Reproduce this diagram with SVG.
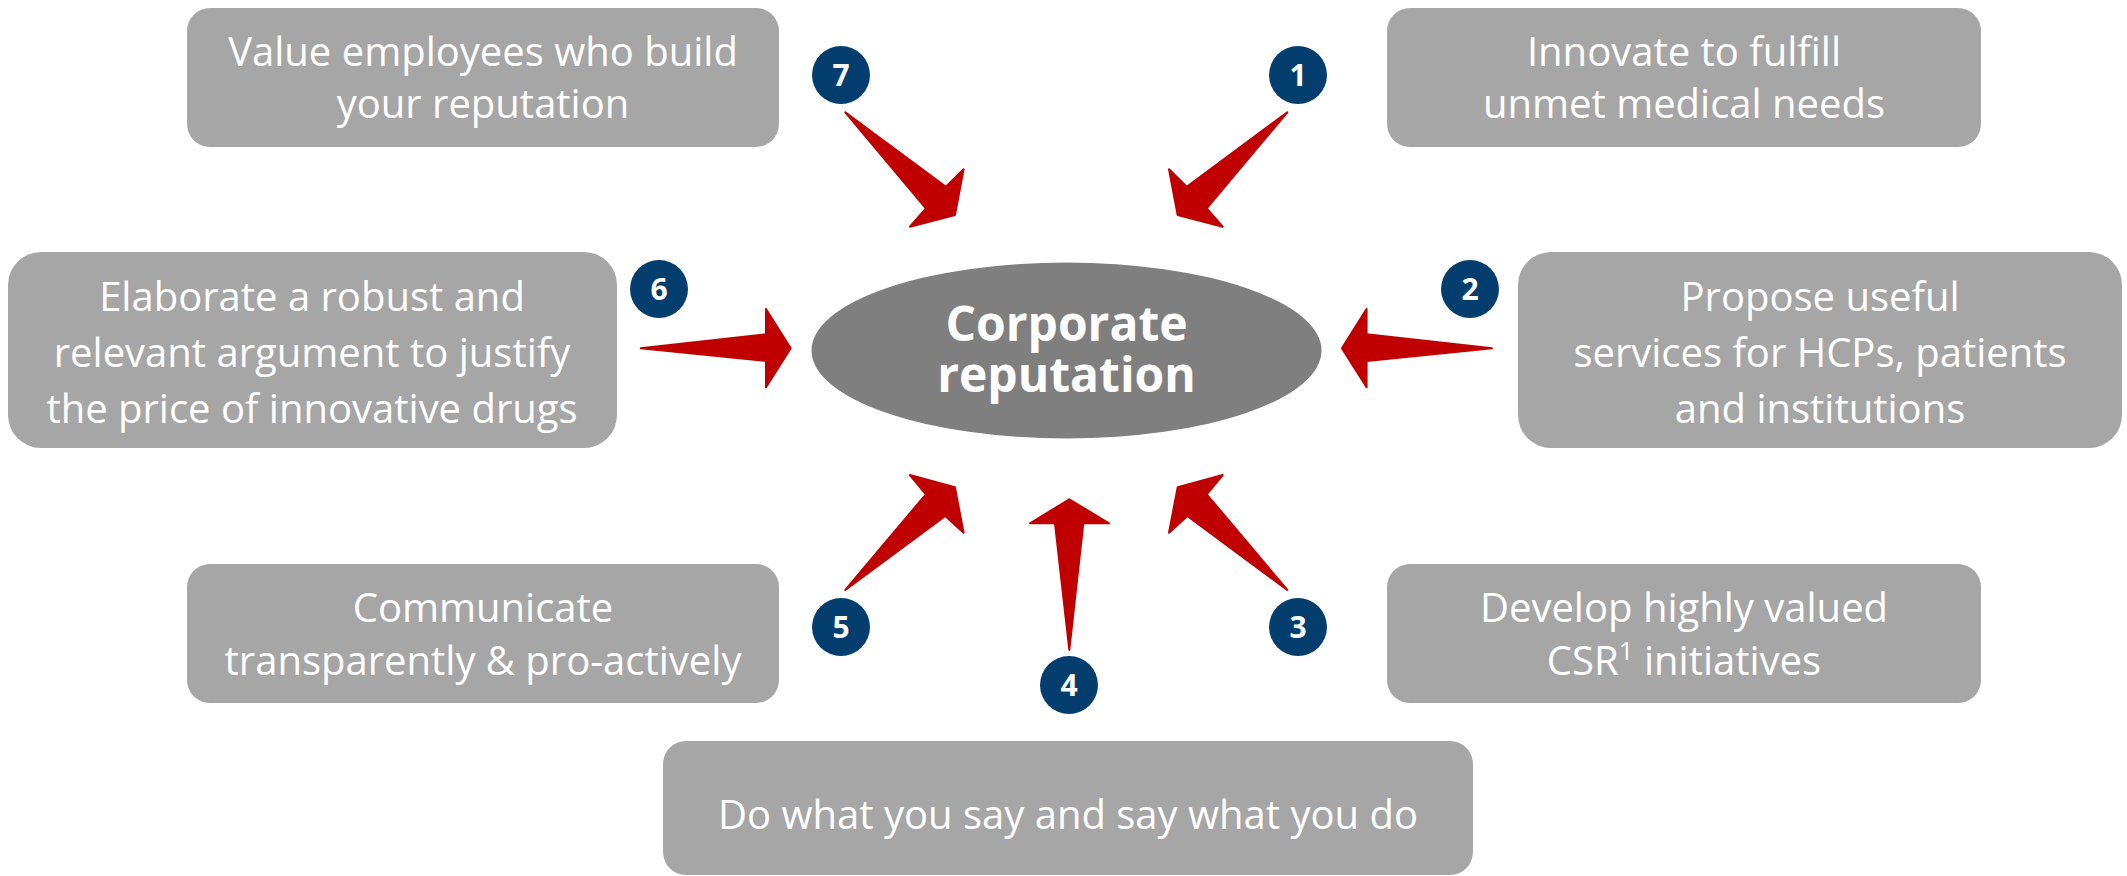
<svg xmlns="http://www.w3.org/2000/svg" width="2127" height="876" viewBox="0 0 2127 876">
  <style>
    .box { fill: #A6A6A6; }
    .txt { font-family: "Open Sans", "Noto Sans", "Liberation Sans", sans-serif; font-size: 40px; fill: #FFFFFF; text-anchor: middle; }
    .ctr { font-family: "Open Sans", "Noto Sans", "Liberation Sans", sans-serif; font-size: 48px; font-weight: bold; fill: #FFFFFF; text-anchor: middle; }
    .num { fill: #043E6E; }
    .numt { font-family: "Open Sans", "Noto Sans", "Liberation Sans", sans-serif; font-size: 30px; font-weight: bold; fill: #FFFFFF; text-anchor: middle; }
    .arrow { fill: #C00000; stroke: #C00000; stroke-width: 2; stroke-linejoin: round; }
  </style>
  <rect width="2127" height="876" fill="#FFFFFF"/>

  <g id="connectors">
    <polygon class="arrow" points="1287.3,112.3 1186.7,186.7 1169,169.3 1177.7,215 1222.7,226.7 1206.7,208.3"/>
    <polygon class="arrow" points="845.3,112.3 945.9,186.7 963.6,169.3 954.9,215 909.9,226.7 925.9,208.3"/>
    <polygon class="arrow" points="1287.3,590 1206.7,494.3 1222.7,475 1177.7,487.3 1169,532.7 1187.3,516"/>
    <polygon class="arrow" points="845.3,590 925.9,494.3 909.9,475 954.9,487.3 963.6,532.7 945.3,516"/>
    <polygon class="arrow" points="640.7,348.3 766,334.3 766,309 790.7,348.3 766,387.3 766,361"/>
    <polygon class="arrow" points="1491.9,348.3 1366.6,334.3 1366.6,309 1341.9,348.3 1366.6,387.3 1366.6,361"/>
    <polygon class="arrow" points="1069.3,650 1055,523.3 1030,523.3 1069.3,499.3 1109,523.3 1083.3,523.3"/>
  </g>

  <g id="center">
    <ellipse cx="1066.5" cy="350.5" rx="255" ry="88" fill="#7F7F7F"/>
    <text class="ctr" x="1066.5" y="341">Corporate<tspan x="1066.5" y="392">reputation</tspan></text>
  </g>

  <g id="node7">
    <rect class="box" x="187" y="8" width="592" height="139" rx="23"/>
    <text class="txt" x="483" y="66">Value employees who build<tspan x="483" y="118">your reputation</tspan></text>
  </g>
  <g id="node1">
    <rect class="box" x="1387" y="8" width="594" height="139" rx="23"/>
    <text class="txt" x="1684" y="66">Innovate to fulfill<tspan x="1684" y="118">unmet medical needs</tspan></text>
  </g>
  <g id="node6">
    <rect class="box" x="8" y="252" width="609" height="196" rx="33"/>
    <text class="txt" x="312" y="311">Elaborate a robust and<tspan x="312" y="367">relevant argument to justify</tspan><tspan x="312" y="423">the price of innovative drugs</tspan></text>
  </g>
  <g id="node2">
    <rect class="box" x="1518" y="252" width="604" height="196" rx="33"/>
    <text class="txt" x="1820" y="311">Propose useful<tspan x="1820" y="367">services for HCPs, patients</tspan><tspan x="1820" y="423">and institutions</tspan></text>
  </g>
  <g id="node5">
    <rect class="box" x="187" y="564" width="592" height="139" rx="23"/>
    <text class="txt" x="483" y="622">Communicate<tspan x="483" y="675">transparently &amp; pro-actively</tspan></text>
  </g>
  <g id="node3">
    <rect class="box" x="1387" y="564" width="594" height="139" rx="23"/>
    <text class="txt" x="1684" y="622">Develop highly valued<tspan x="1684" y="675">CSR</tspan><tspan font-size="26" dy="-15">1</tspan><tspan dy="15"> initiatives</tspan></text>
  </g>
  <g id="node4">
    <rect class="box" x="663" y="741" width="810" height="134" rx="23"/>
    <text class="txt" x="1068" y="829">Do what you say and say what you do</text>
  </g>

  <g id="badge1"><circle class="num" cx="1298" cy="75" r="29"/><text class="numt" x="1298" y="86">1</text></g>
  <g id="badge2"><circle class="num" cx="1470" cy="289" r="29"/><text class="numt" x="1470" y="300">2</text></g>
  <g id="badge3"><circle class="num" cx="1298" cy="627" r="29"/><text class="numt" x="1298" y="638">3</text></g>
  <g id="badge4"><circle class="num" cx="1069" cy="685" r="29"/><text class="numt" x="1069" y="696">4</text></g>
  <g id="badge5"><circle class="num" cx="841" cy="627" r="29"/><text class="numt" x="841" y="638">5</text></g>
  <g id="badge6"><circle class="num" cx="659" cy="289" r="29"/><text class="numt" x="659" y="300">6</text></g>
  <g id="badge7"><circle class="num" cx="841" cy="75" r="29"/><text class="numt" x="841" y="86">7</text></g>
</svg>
